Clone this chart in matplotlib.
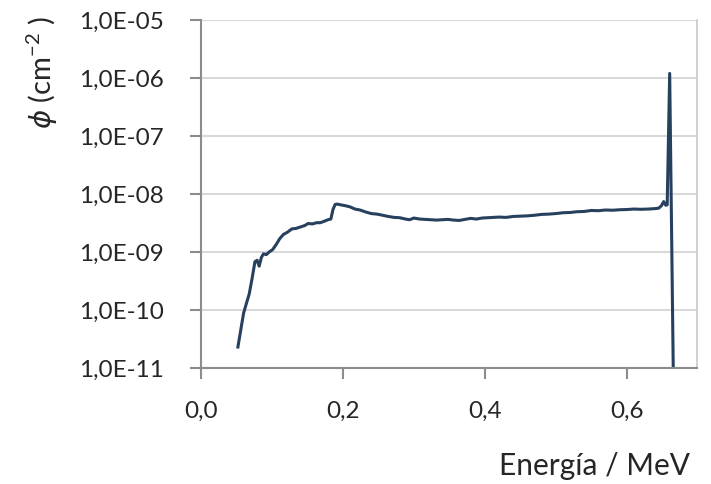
import matplotlib
matplotlib.use("Agg")
import matplotlib.pyplot as plt
from matplotlib.ticker import FixedLocator, FixedFormatter, NullLocator

# Data
energy = [0.052, 0.056, 0.060, 0.064, 0.068, 0.072, 0.076, 0.079, 0.082, 0.085,
          0.088, 0.092, 0.096, 0.101, 0.106, 0.111, 0.116, 0.122, 0.128, 0.134,
          0.140, 0.146, 0.151, 0.157, 0.163, 0.168, 0.174, 0.179, 0.183, 0.186,
          0.189, 0.192, 0.197, 0.203, 0.210, 0.217, 0.224, 0.232, 0.240, 0.248,
          0.256, 0.264, 0.272, 0.280, 0.288, 0.294, 0.300, 0.308, 0.316, 0.324,
          0.332, 0.340, 0.348, 0.356, 0.364, 0.372, 0.380, 0.388, 0.396, 0.404,
          0.412, 0.420, 0.430, 0.440, 0.450, 0.460, 0.470, 0.480, 0.490, 0.500,
          0.510, 0.520, 0.530, 0.540, 0.550, 0.560, 0.570, 0.580, 0.590, 0.600,
          0.610, 0.620, 0.630, 0.640, 0.645, 0.649, 0.652, 0.655, 0.657, 0.6605,
          0.6665]
flux = [2.3e-11, 4.5e-11, 8.8e-11, 1.3e-10, 1.9e-10, 3.5e-10, 6.8e-10, 7.2e-10, 5.7e-10, 8.0e-10,
        9.3e-10, 9.0e-10, 1.0e-9, 1.1e-9, 1.35e-9, 1.7e-9, 2.0e-9, 2.2e-9, 2.5e-9, 2.55e-9,
        2.7e-9, 2.85e-9, 3.1e-9, 3.05e-9, 3.2e-9, 3.2e-9, 3.4e-9, 3.6e-9, 3.7e-9, 5.4e-9,
        6.6e-9, 6.7e-9, 6.5e-9, 6.3e-9, 6.0e-9, 5.5e-9, 5.3e-9, 4.9e-9, 4.6e-9, 4.5e-9,
        4.3e-9, 4.1e-9, 3.95e-9, 3.9e-9, 3.7e-9, 3.6e-9, 3.85e-9, 3.7e-9, 3.65e-9, 3.6e-9,
        3.55e-9, 3.6e-9, 3.65e-9, 3.55e-9, 3.5e-9, 3.65e-9, 3.8e-9, 3.7e-9, 3.85e-9, 3.9e-9,
        3.95e-9, 4.0e-9, 3.95e-9, 4.1e-9, 4.15e-9, 4.2e-9, 4.3e-9, 4.45e-9, 4.5e-9, 4.6e-9,
        4.75e-9, 4.8e-9, 4.95e-9, 5.0e-9, 5.2e-9, 5.15e-9, 5.3e-9, 5.25e-9, 5.35e-9, 5.4e-9,
        5.5e-9, 5.45e-9, 5.5e-9, 5.6e-9, 5.7e-9, 6.3e-9, 7.4e-9, 6.4e-9, 6.5e-9, 1.2e-6,
        1.0e-12]

x_ticks = [0.0, 0.2, 0.4, 0.6]
x_labels = ["0,0", "0,2", "0,4", "0,6"]
y_ticks = [1e-11, 1e-10, 1e-9, 1e-8, 1e-7, 1e-6, 1e-5]
y_labels = ["1,0E-11", "1,0E-10", "1,0E-09", "1,0E-08", "1,0E-07", "1,0E-06", "1,0E-05"]

plt.rcParams['font.family'] = ['Lato', 'DejaVu Sans']
plt.rcParams['mathtext.fontset'] = 'dejavusans'

fig = plt.figure(figsize=(7.11, 4.84), dpi=100)
ax = fig.add_axes([201/711, 1-368/484, (697-201)/711, (368-20)/484])

ax.plot(energy, flux, color="#26405e", lw=2.2, solid_joinstyle="round", clip_on=True)
ax.set_yscale("log")
ax.set_xlim(0, 0.699)
ax.set_ylim(1e-11, 1e-5)

ax.yaxis.set_major_locator(FixedLocator(y_ticks))
ax.yaxis.set_major_formatter(FixedFormatter(y_labels))
ax.yaxis.set_minor_locator(NullLocator())
ax.xaxis.set_major_locator(FixedLocator(x_ticks))
ax.xaxis.set_major_formatter(FixedFormatter(x_labels))
ax.xaxis.set_minor_locator(NullLocator())

ax.grid(axis="y", color="#d9d9d9", lw=1.5)
ax.set_axisbelow(True)
for s in ["left", "bottom"]:
    ax.spines[s].set_color("#8c8c8c")
    ax.spines[s].set_linewidth(1.5)
for s in ["right", "top"]:
    ax.spines[s].set_color("#c8c8c8")
    ax.spines[s].set_linewidth(1.2)
ax.spines["top"].set_visible(False)

ax.tick_params(axis="both", direction="out", length=8, width=1.5, color="#8c8c8c",
               labelsize=17.5, labelcolor="#262626")
ax.tick_params(axis="y", pad=19)
ax.tick_params(axis="x", pad=16)

fig.text(42/711, 1-73/484, r"$\phi$ (cm$^{\mathregular{-2}}$ )", rotation=90, ha="center", va="center",
         fontsize=21, color="#262626")
fig.text(690/711, 1-475/484, "Energía / MeV", ha="right", va="baseline", fontsize=21.5, color="#262626")

fig.savefig("out.png", dpi=100)
